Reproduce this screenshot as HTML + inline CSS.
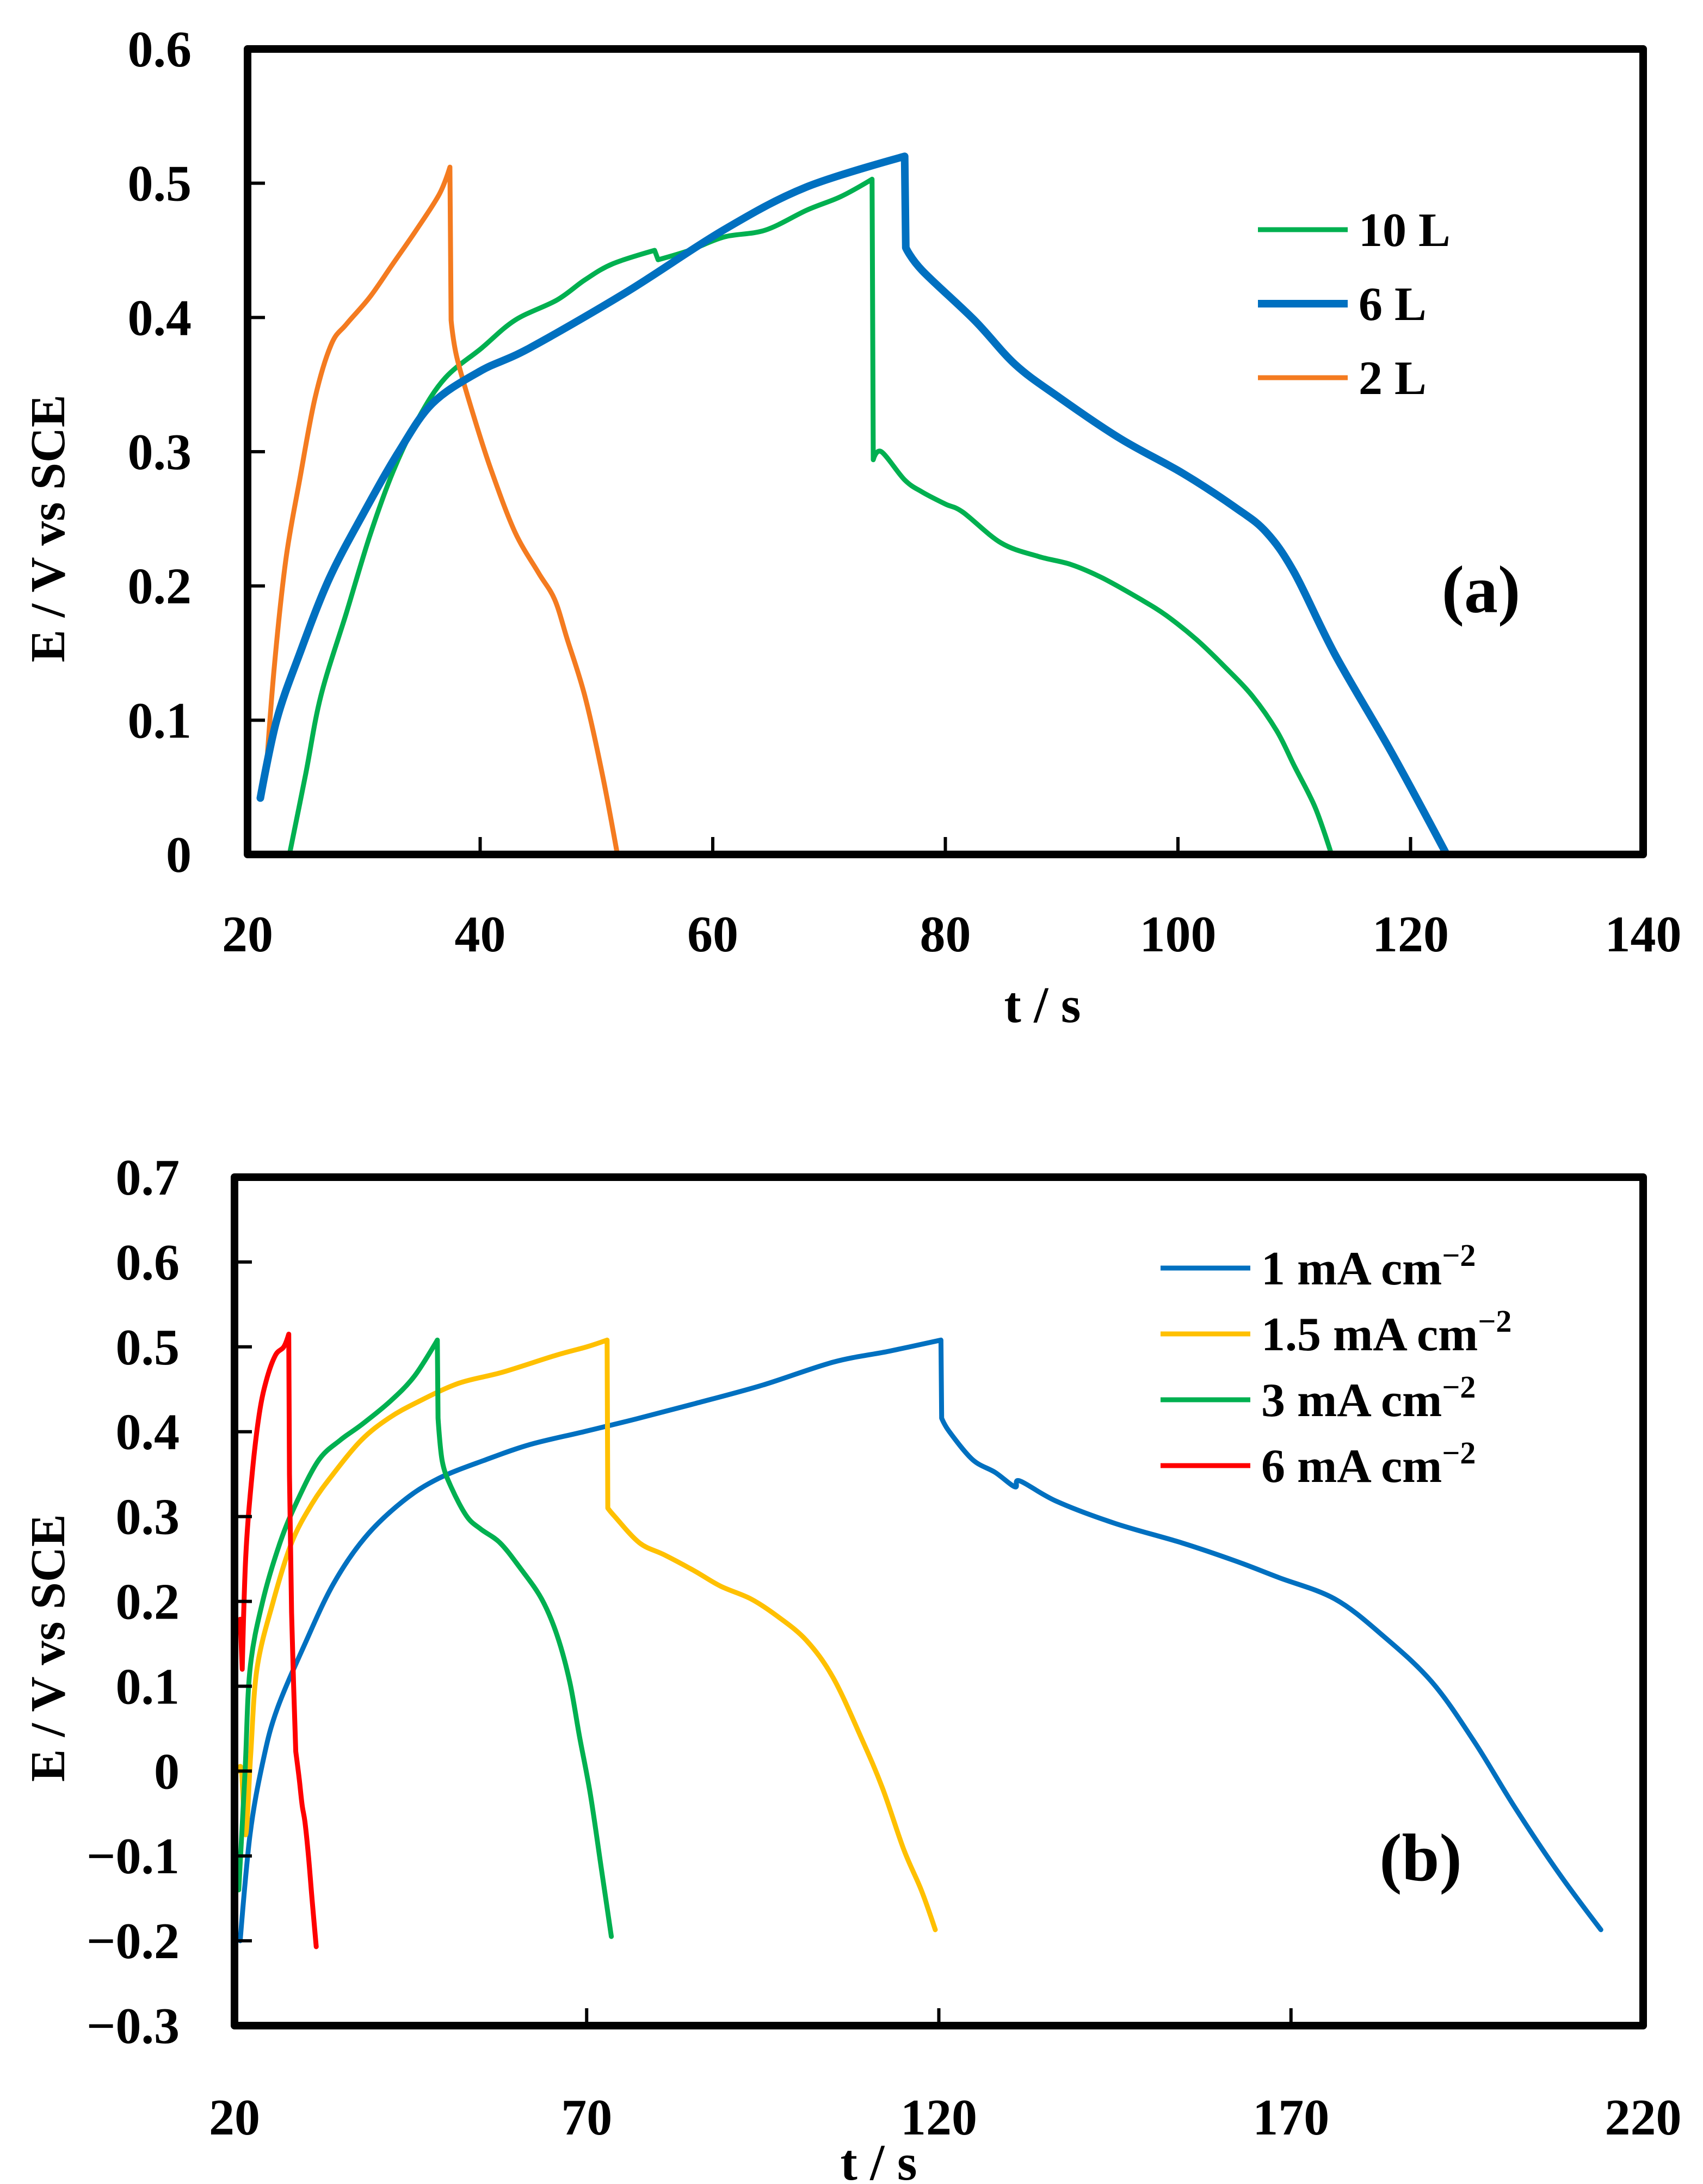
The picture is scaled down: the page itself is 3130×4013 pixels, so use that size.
<!DOCTYPE html>
<html><head><meta charset="utf-8">
<style>
html,body{margin:0;padding:0;background:#fff;}
svg{display:block;font-family:"Liberation Serif",serif;font-weight:bold;}
</style></head>
<body>
<svg id="chart" width="3130" height="4013" viewBox="0 0 3130 4013" xmlns="http://www.w3.org/2000/svg">
<rect width="3130" height="4013" fill="#fff"/>
<g id="pa"></g>
<g id="pb"></g>
</svg>
<script>
// ---- Panel (a) data ----
const aXTicks = [20,40,60,80,100,120,140];
const aYTicks = [0,0.1,0.2,0.3,0.4,0.5,0.6];
const aYLabels = ["0","0.1","0.2","0.3","0.4","0.5","0.6"];
const a2L_t = [21.6,22.3,23.3,24.5,25.8,27.2,28.5,30.5,32.5,34.5,36.5,37.4,37.5,38.0,39.5,41,43,45,46.4,47.5,49,50.5,51.8];
const a2L_E = [0.061,0.14,0.22,0.28,0.34,0.38,0.395,0.415,0.44,0.465,0.492,0.512,0.398,0.37,0.325,0.285,0.24,0.21,0.19,0.16,0.118,0.06,0];
const a6L_t = [21.1,22.5,24.5,27,29.9,33,35.9,40,44.2,52.6,60.9,68,76.5,76.6,78,82.5,86,89.7,95,100.4,105,107.6,110,113.5,118.3,123.1];
const a6L_E = [0.042,0.1,0.15,0.205,0.253,0.3,0.336,0.36,0.377,0.419,0.465,0.497,0.52,0.452,0.435,0.398,0.365,0.341,0.31,0.284,0.258,0.24,0.21,0.149,0.077,0];
const a10L_t = [23.6,25,26.3,28.5,30.5,32.5,34.7,37,40.1,43,46.6,49,51.4,55,55.3,58,61,64.5,68.1,71,73.7,73.8,74.5,76.5,78,80,81.5,84.8,88,90.8,93.5,96.8,99,101.6,104,106.4,108.5,110,111.8,113.2];
const a10L_E = [0,0.06,0.118,0.18,0.237,0.285,0.325,0.355,0.377,0.398,0.413,0.428,0.44,0.45,0.443,0.45,0.46,0.465,0.48,0.49,0.503,0.294,0.3,0.279,0.27,0.261,0.255,0.232,0.222,0.216,0.206,0.19,0.178,0.16,0.14,0.118,0.092,0.066,0.035,0];

// ---- Panel (b) data ----
const bXTicks = [20,70,120,170,220];
const bYTicks = [-0.3,-0.2,-0.1,0,0.1,0.2,0.3,0.4,0.5,0.6,0.7];
const bYLabels = ["\u22120.3","\u22120.2","\u22120.1","0","0.1","0.2","0.3","0.4","0.5","0.6","0.7"];
const b1_t = [20.8,22.2,24,26,30,34,38.5,43.9,49,55.7,62,69.6,77,85.3,95,105,113,120.3,120.4,121.5,124.8,128,130.8,131.5,136.7,145,154.5,162,168.3,176.2,183,190,196,201.8,208,214];
const b1_E = [-0.2,-0.075,0.01,0.072,0.15,0.22,0.275,0.318,0.345,0.367,0.385,0.4,0.415,0.433,0.455,0.482,0.495,0.508,0.416,0.4,0.367,0.352,0.335,0.342,0.318,0.292,0.269,0.248,0.228,0.203,0.16,0.105,0.035,-0.043,-0.12,-0.187];
const b15_t = [20.6,21.0,21.6,22.3,23.2,25.5,28.1,31,34,38,41.9,46,51.8,58,65.6,70,72.9,73.0,74,77.5,81,85.3,89,93.3,97,101.2,105,109,112,115,117.5,119.5];
const b15_E = [0.0,0.0,-0.075,0.02,0.121,0.2,0.269,0.315,0.35,0.39,0.416,0.435,0.457,0.47,0.49,0.5,0.508,0.31,0.3,0.269,0.255,0.236,0.218,0.203,0.183,0.154,0.11,0.039,-0.02,-0.092,-0.14,-0.187];
const b3_t = [20.6,21.5,22.2,24,26.5,29,32,35,38,42,45.5,48.8,48.9,49.5,50.8,53,55,57.7,60.5,63.6,65.8,67.6,69,70.5,72,73.5];
const b3_E = [-0.14,0.0,0.12,0.2,0.27,0.32,0.367,0.39,0.408,0.435,0.465,0.508,0.416,0.365,0.334,0.3,0.285,0.269,0.24,0.203,0.16,0.105,0.04,-0.026,-0.11,-0.195];
const b6_t = [20.8,21.1,21.6,22.5,23.5,24.5,25.8,27,27.7,27.8,28.1,28.4,28.7,29.2,29.6,30.0,30.5,31.0,31.6];
const b6_E = [0.179,0.12,0.253,0.35,0.42,0.46,0.49,0.5,0.515,0.35,0.187,0.1,0.023,-0.01,-0.04,-0.06,-0.1,-0.15,-0.207];

const NS = "http://www.w3.org/2000/svg";
function mk(parent, tag, attrs){
  const e = document.createElementNS(NS, tag);
  for (const k in attrs) e.setAttribute(k, attrs[k]);
  parent.appendChild(e);
  return e;
}
function linScale(d0,d1,r0,r1){ return v => r0 + (v-d0)/(d1-d0)*(r1-r0); }

function smoothPath(ts, es, xs, ys){
  const P = ts.map((t,i)=>[xs(t), ys(es[i])]);
  const sharp = i => (i>0 && ts[i]-ts[i-1] < 0.35);
  let d = "M"+P[0][0].toFixed(1)+","+P[0][1].toFixed(1);
  for (let i=0;i<P.length-1;i++){
    const p0 = P[Math.max(0,i-1)], p1 = P[i], p2 = P[i+1], p3 = P[Math.min(P.length-1,i+2)];
    if (sharp(i+1)) { d += " L"+p2[0].toFixed(1)+","+p2[1].toFixed(1); continue; }
    let c1 = sharp(i) || i===0 ? p1 : [p1[0]+(p2[0]-p0[0])/6, p1[1]+(p2[1]-p0[1])/6];
    let c2 = sharp(i+2) || i+1===P.length-1 ? p2 : [p2[0]-(p3[0]-p1[0])/6, p2[1]-(p3[1]-p1[1])/6];
    d += " C"+c1[0].toFixed(1)+","+c1[1].toFixed(1)+" "+c2[0].toFixed(1)+","+c2[1].toFixed(1)+" "+p2[0].toFixed(1)+","+p2[1].toFixed(1);
  }
  return d;
}

function drawPanel(g, cfg){
  const xs = linScale(cfg.xmin,cfg.xmax,cfg.L,cfg.R);
  const ys = linScale(cfg.ymin,cfg.ymax,cfg.B,cfg.T);
  cfg.series.forEach(s=>{
    const p = mk(g,"path",{d:smoothPath(s.t,s.E,xs,ys),fill:"none",stroke:s.color,"stroke-width":s.w,"stroke-linejoin":"round","stroke-linecap":"round"});
    
    
  });
  const fr = mk(g,"rect",{x:cfg.L,y:cfg.T,width:cfg.R-cfg.L,height:cfg.B-cfg.T,fill:"none",stroke:"#000","stroke-width":14,"stroke-linejoin":"round"});
  
  
  cfg.yTicks.forEach((v,i)=>{
    const y = ys(v);
    const tk = mk(g,"line",{x1:cfg.L,x2:cfg.L+32,y1:y,y2:y,stroke:"#000","stroke-width":6});
    
    
    const tx = mk(g,"text",{x:cfg.yLabelX,y:y+32,"text-anchor":"end","font-size":94});
    tx.textContent = cfg.yLabels[i];
    
    
  });
  cfg.xTicks.forEach(v=>{
    const x = xs(v);
    const tk = mk(g,"line",{x1:x,x2:x,y1:cfg.B,y2:cfg.B-32,stroke:"#000","stroke-width":6});
    
    
    const tx = mk(g,"text",{x:x,y:cfg.xLabelY,"text-anchor":"middle","font-size":94});
    tx.textContent = String(v);
    
    
  });
  const xt = mk(g,"text",{x:cfg.xTitle[0],y:cfg.xTitle[1],"text-anchor":"middle","font-size":94});
  xt.textContent = "t / s";
  
  
  const yt = mk(g,"text",{x:0,y:0,"text-anchor":"middle","font-size":90,transform:"translate("+cfg.yTitle[0]+","+cfg.yTitle[1]+") rotate(-90)"});
  yt.textContent = "E / V vs SCE";
  
  
  cfg.legend.forEach((l,i)=>{
    const y = cfg.legY0 + i*cfg.legDy;
    const ln = mk(g,"line",{x1:cfg.legX,x2:cfg.legX+165,y1:y,y2:y,stroke:l.color,"stroke-width":l.w});
    
    
    const tx = mk(g,"text",{x:cfg.legX+185,y:y+30,"font-size":88});
    
    
    tx.textContent = l.label;
    if (l.sup){
      const ts = mk(tx,"tspan",{"font-size":58,dy:-34});
      ts.textContent = l.sup;
    }
  });
  const pl = mk(g,"text",{x:cfg.panel[0],y:cfg.panel[1],"text-anchor":"middle","font-size":124});
  pl.textContent = cfg.panelText;
  
  
}

drawPanel(document.getElementById("pa"),{
  xmin:20,xmax:140,ymin:0,ymax:0.6,L:455,R:3020,T:90,B:1570,
  xTicks:aXTicks,yTicks:aYTicks,yLabels:aYLabels,yLabelX:352,xLabelY:1748,
  xTitle:[1916,1878],yTitle:[118,971],
  series:[
    {name:"series-10L",t:a10L_t,E:a10L_E,color:"#00b050",w:9},
    {name:"series-2L",t:a2L_t,E:a2L_E,color:"#f47b20",w:9},
    {name:"series-6L",t:a6L_t,E:a6L_E,color:"#0070c0",w:14}
  ],
  legX:2312,legY0:422,legDy:136,
  legend:[{label:"10 L",color:"#00b050",w:9},{label:"6 L",color:"#0070c0",w:14},{label:"2 L",color:"#f47b20",w:9}],
  panel:[2722,1125],panelText:"(a)"
});

drawPanel(document.getElementById("pb"),{
  xmin:20,xmax:220,ymin:-0.3,ymax:0.7,L:431,R:3020,T:2163,B:3722,
  xTicks:bXTicks,yTicks:bYTicks,yLabels:bYLabels,yLabelX:330,xLabelY:3922,
  xTitle:[1615,4005],yTitle:[118,3028],
  series:[
    {name:"series-1mA",t:b1_t,E:b1_E,color:"#0070c0",w:9},
    {name:"series-1.5mA",t:b15_t,E:b15_E,color:"#ffc000",w:9},
    {name:"series-3mA",t:b3_t,E:b3_E,color:"#00b050",w:9},
    {name:"series-6mA",t:b6_t,E:b6_E,color:"#ff0000",w:9}
  ],
  legX:2133,legY0:2330,legDy:121,
  legend:[{label:"1 mA cm",sup:"\u22122",color:"#0070c0",w:9},{label:"1.5 mA cm",sup:"\u22122",color:"#ffc000",w:9},{label:"3 mA cm",sup:"\u22122",color:"#00b050",w:9},{label:"6 mA cm",sup:"\u22122",color:"#ff0000",w:9}],
  panel:[2611,3455],panelText:"(b)"
});
</script>
</body></html>
